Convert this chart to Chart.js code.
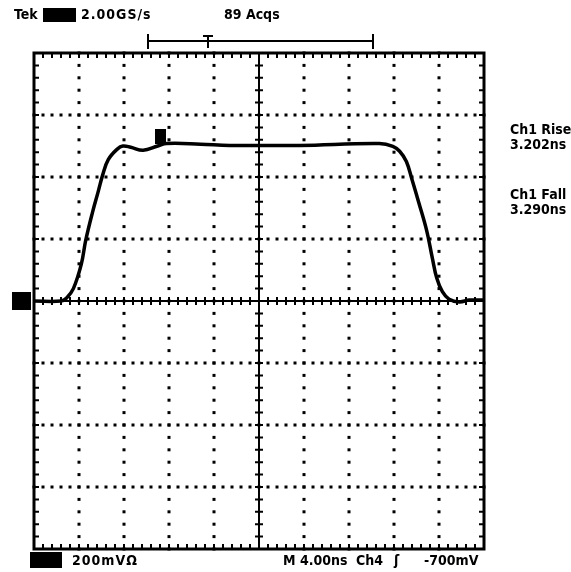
<!DOCTYPE html>
<html>
<head>
<meta charset="utf-8">
<script src="https://cdn.jsdelivr.net/npm/chart.js@4"></script>
<style>
  html, body { margin: 0; padding: 0; background: #fff; }
  #wrap { position: relative; width: 571px; height: 572px; }
  .lbl { position: absolute; font-family: "DejaVu Sans Condensed", "DejaVu Sans", sans-serif; font-stretch: condensed;
         font-weight: bold; font-size: 14px; color: #000; white-space: pre; line-height: 15px; }
  .blk { position: absolute; background: #000; }
</style>
</head>
<body>
<div id="wrap">
  <canvas id="scope" width="571" height="572"></canvas>
  <div class="lbl" style="left:14px;top:7px">Tek</div>
  <div class="blk" style="left:43px;top:8px;width:33px;height:14px"></div>
  <div class="lbl" style="left:81px;top:7px;letter-spacing:1px">2.00GS/s</div>
  <div class="lbl" style="left:224px;top:7px">89 Acqs</div>
  <div class="lbl" style="left:510px;top:122px">Ch1 Rise<br>3.202ns</div>
  <div class="lbl" style="left:510px;top:187px">Ch1 Fall<br>3.290ns</div>
  <div class="blk" style="left:30px;top:552px;width:32px;height:16px"></div>
  <div class="lbl" style="left:72px;top:553px;letter-spacing:1px">200mVΩ</div>
  <div class="lbl" style="left:283px;top:553px">M 4.00ns</div>
  <div class="lbl" style="left:356px;top:553px">Ch4</div>
  <div class="lbl" style="left:394px;top:553px">ʃ</div>
  <div class="lbl" style="left:424px;top:553px">-700mV</div>
</div>
<script>
// Ch1 trace (time in ns, level in mV)
const timeNs = [-20, -17.6, -17.1, -16.5, -15.8, -15.4, -14.8, -14.3, -13.9, -13.4, -12.6, -12.1, -11.4, -10.3, -9.0, -8.2, -5.2, -2.6, 3.6, 10.7, 11.9, 12.5, 13.1, 13.6, 14.2, 14.9, 15.4, 15.8, 16.3, 16.9, 17.8, 18.7, 20];
const ch1Mv = [0, 0, 10, 40, 118, 196, 286, 352, 406, 456, 490, 500, 496, 486, 500, 508, 506, 502, 502, 508, 499, 483, 450, 392, 318, 228, 140, 74, 30, 6, -3, 3, 3];

// 4 ns/div, 200 mV/div
const timeDiv = 4;
const voltDiv = 200;

// graticule drawn the way the scope does it: dotted grid, ticked centre cross and frame
const graticule = {
  id: 'graticule',
  beforeDatasetsDraw(chart) {
    const { ctx, chartArea: a, scales: { x, y } } = chart;
    ctx.save();
    ctx.fillStyle = '#000';
    // dotted lines
    for (let i = -4; i <= 4; i++) {
      if (i === 0) continue;
      const px = x.getPixelForValue(i * timeDiv);
      for (let j = -20; j <= 20; j++) {
        const py = y.getPixelForValue(j * voltDiv / 5);
        ctx.fillRect(px - 1.5, py - 1.5, 3, 3);
      }
    }
    for (let j = -3; j <= 3; j++) {
      if (j === 0) continue;
      const py = y.getPixelForValue(j * voltDiv);
      for (let i = -25; i <= 25; i++) {
        const px = x.getPixelForValue(i * timeDiv / 5);
        ctx.fillRect(px - 1.5, py - 1.5, 3, 3);
      }
    }
    // centre cross
    const cx = x.getPixelForValue(0), cy = y.getPixelForValue(0);
    ctx.lineWidth = 2;
    ctx.strokeStyle = '#000';
    ctx.beginPath();
    ctx.moveTo(a.left, cy); ctx.lineTo(a.right, cy);
    ctx.moveTo(cx, a.top); ctx.lineTo(cx, a.bottom);
    for (let i = -25; i <= 25; i++) {
      const px = x.getPixelForValue(i * timeDiv / 5);
      ctx.moveTo(px, cy - 4); ctx.lineTo(px, cy + 4);
      ctx.moveTo(px, a.top); ctx.lineTo(px, a.top + 5);
      ctx.moveTo(px, a.bottom); ctx.lineTo(px, a.bottom - 5);
    }
    for (let j = -20; j <= 20; j++) {
      const py = y.getPixelForValue(j * voltDiv / 5);
      ctx.moveTo(cx - 4, py); ctx.lineTo(cx + 4, py);
      ctx.moveTo(a.left, py); ctx.lineTo(a.left + 5, py);
      ctx.moveTo(a.right, py); ctx.lineTo(a.right - 5, py);
    }
    ctx.stroke();
    // frame
    ctx.lineWidth = 3;
    ctx.strokeRect(a.left, a.top, a.right - a.left, a.bottom - a.top);
    ctx.restore();
  },
  afterDraw(chart) {
    const { ctx, scales: { x, y } } = chart;
    ctx.save();
    ctx.fillStyle = '#000';
    ctx.strokeStyle = '#000';
    // ground marker for ch1
    const gy = y.getPixelForValue(0);
    ctx.fillRect(12, gy - 9, 19, 18);
    // small marker sitting on the trace
    const mx = x.getPixelForValue(-8.8);
    ctx.fillRect(mx - 5, y.getPixelForValue(500) - 17, 11, 15);
    // record / trigger bracket across the top
    ctx.lineWidth = 2;
    ctx.beginPath();
    ctx.moveTo(148, 41); ctx.lineTo(373, 41);
    ctx.moveTo(148, 34); ctx.lineTo(148, 49);
    ctx.moveTo(373, 34); ctx.lineTo(373, 49);
    ctx.moveTo(203, 36); ctx.lineTo(213, 36);
    ctx.moveTo(208, 36); ctx.lineTo(208, 48);
    ctx.stroke();
    ctx.restore();
  }
};

new Chart(document.getElementById('scope'), {
  type: 'line',
  data: {
    labels: timeNs,
    datasets: [{
      label: 'Ch1',
      data: timeNs.map((t, i) => ({ x: t, y: ch1Mv[i] })),
      borderColor: '#000',
      borderWidth: 3.5,
      pointRadius: 0,
      tension: 0.4,
      fill: false
    }]
  },
  options: {
    responsive: false,
    animation: false,
    layout: { padding: { left: 34, right: 87, top: 53, bottom: 23 } },
    plugins: { legend: { display: false }, tooltip: { enabled: false } },
    scales: {
      x: {
        type: 'linear', min: -20, max: 20,
        ticks: { display: false }, grid: { display: false }, border: { display: false },
        afterFit(s) { s.height = 0; }
      },
      y: {
        type: 'linear', min: -800, max: 800,
        ticks: { display: false }, grid: { display: false }, border: { display: false },
        afterFit(s) { s.width = 0; }
      }
    }
  },
  plugins: [graticule]
});
</script>
</body>
</html>
